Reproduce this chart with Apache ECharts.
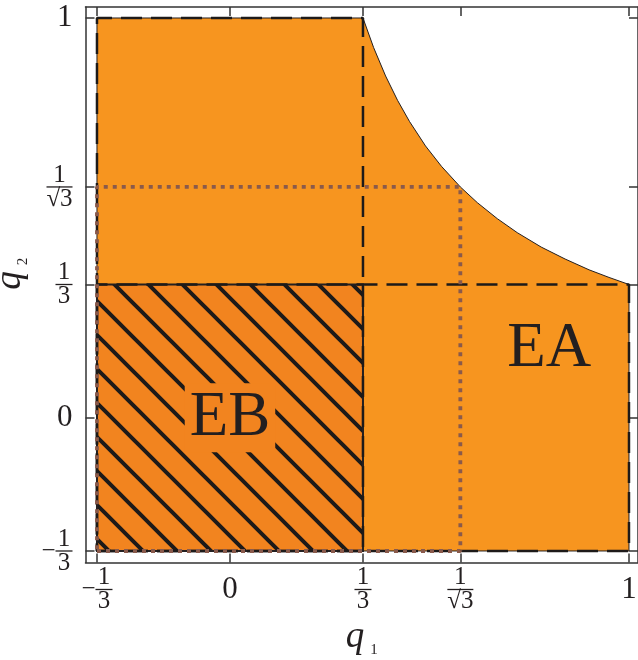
<!DOCTYPE html>
<html><head><meta charset="utf-8">
<script src="https://cdn.jsdelivr.net/npm/echarts@6/dist/echarts.min.js"></script>
<style>html,body{margin:0;padding:0;background:#fff}#c{width:638px;height:660px}</style>
</head><body><div id="c"></div>
<script>
// ---- data ----
const tickValues = [-0.33333, 0, 0.33333, 0.57735, 1];
const tickLabels = ['-1/3', '0', '1/3', '1/√3', '1'];
// upper boundary curve
const curveQ1 = [0.33333, 0.36, 0.39, 0.42, 0.45, 0.49, 0.53, 0.57735, 0.62, 0.67, 0.72, 0.78, 0.84, 0.9, 0.95, 1];
const curveQ2 = [1, 0.926, 0.855, 0.794, 0.741, 0.68, 0.629, 0.57735, 0.538, 0.498, 0.463, 0.427, 0.397, 0.37, 0.351, 0.33333];
// whole allowed region (EA) outline, before the curve
const regionStartQ1 = [1, -0.33333, -0.33333];
const regionStartQ2 = [-0.33333, -0.33333, 1];
// EB square
const ebQ1 = [-0.33333, 0.33333, 0.33333, -0.33333];
const ebQ2 = [-0.33333, -0.33333, 0.33333, 0.33333];
// dashed rectangles
const tallRectQ1 = [-0.33333, 0.33333, 0.33333, -0.33333, -0.33333];
const tallRectQ2 = [-0.33333, -0.33333, 1, 1, -0.33333];
const wideRectQ1 = [-0.33333, 1, 1, -0.33333, -0.33333];
const wideRectQ2 = [-0.33333, -0.33333, 0.33333, 0.33333, -0.33333];
// dotted square
const dotRectQ1 = [-0.33333, 0.57735, 0.57735, -0.33333, -0.33333];
const dotRectQ2 = [-0.33333, -0.33333, 0.57735, 0.57735, -0.33333];
// region labels
const regionNames = ['EA', 'EB'];
const regionLabelQ1 = [0.8, 0];
const regionLabelQ2 = [0.17, 0];

// ---- helpers ----
const zip = (a, b) => a.map((v, i) => [v, b[i]]);
const regionPts = zip(regionStartQ1, regionStartQ2).concat(zip(curveQ1, curveQ2));
const ebPts = zip(ebQ1, ebQ2);

function makeHatch() {
  const s = 34;
  const c = document.createElement('canvas');
  c.width = s; c.height = s;
  const ctx = c.getContext('2d');
  ctx.strokeStyle = '#1d1a19';
  ctx.lineWidth = 4;
  ctx.beginPath();
  for (let k = -s; k <= s; k += s) {
    ctx.moveTo(k - 2, -2); ctx.lineTo(k + s + 2, s + 2);
  }
  ctx.stroke();
  return c;
}
const hatch = makeHatch();

const FONT = "'Liberation Serif', 'Times New Roman', serif";
const TXT = '#231f20';
function labelRich(v) {
  let idx = tickValues.findIndex(t => Math.abs(t - v) < 1e-4);
  if (idx < 0) return '';
  const lbl = tickLabels[idx];
  if (lbl.indexOf('/') < 0) return '{big|' + lbl + '}';
  const neg = lbl[0] === '-';
  const body = neg ? lbl.slice(1) : lbl;
  const [n, d] = body.split('/');
  const wide = d.length > 1;
  const fw = wide ? 'W' : 'N';
  const l1 = (neg ? '{pad| }' : '') + '{n' + fw + '|' + n + '}';
  const l2 = (neg ? '{m|−}' : '') + '{bar' + fw + '| }';
  const l3 = (neg ? '{pad| }' : '') + '{n' + fw + '|' + d + '}';
  return l1 + '\n' + l2 + '\n' + l3;
}
const richLabels = {
  big: { fontFamily: FONT, fontSize: 31, color: TXT, lineHeight: 30 },
  nN: { fontFamily: FONT, fontSize: 25, color: TXT, lineHeight: 21, width: 17, align: 'center' },
  nW: { fontFamily: FONT, fontSize: 25, color: TXT, lineHeight: 21, width: 26, align: 'center' },
  barN: { fontSize: 1, width: 17, height: 1.3, lineHeight: 3, backgroundColor: TXT, align: 'center' },
  barW: { fontSize: 1, width: 26, height: 1.3, lineHeight: 3, backgroundColor: TXT, align: 'center' },
  m: { fontFamily: FONT, fontSize: 25, color: TXT, lineHeight: 3, width: 14, align: 'center' },
  pad: { fontSize: 1, width: 14, align: 'center' }
};
const nameRich = {
  q: { fontFamily: FONT, fontStyle: 'italic', fontSize: 37, color: TXT, lineHeight: 40 },
  s: { fontFamily: FONT, fontSize: 15, color: TXT, lineHeight: 14, verticalAlign: 'bottom', padding: [0, 0, 0, 6] }
};
const regionRich = {
  bg: { fontFamily: FONT, fontSize: 63, color: TXT, lineHeight: 50, backgroundColor: '#f2841f', padding: [4, 5, 2, 5], textBorderWidth: 0 },
  plain: { fontFamily: FONT, fontSize: 63, color: TXT, lineHeight: 50, textBorderWidth: 0 }
};

const frame = { show: true, onZero: false, lineStyle: { color: '#333', width: 1.5 } };
const tick = { show: true, inside: true, length: 9, customValues: tickValues, lineStyle: { color: '#333', width: 1.5 } };

function polySeries(name, pts, style, z) {
  return {
    type: 'custom', name, z, silent: true, clip: false,
    data: [[pts[0][0], pts[0][1]]],
    renderItem: (params, api) => ({
      type: 'polygon',
      shape: { points: pts.map(p => api.coord(p)) },
      style: style
    })
  };
}
function lineSeries(name, q1, q2, color, width, dash, z) {
  return {
    type: 'line', name, z, silent: true, symbol: 'none', animation: false,
    data: zip(q1, q2),
    lineStyle: { color, width, type: dash, cap: 'butt' }
  };
}

const chart = echarts.init(document.getElementById('c'), null, { renderer: 'canvas' });
chart.setOption({
  animation: false,
  backgroundColor: '#ffffff',
  grid: { left: 85.5, right: 0, top: 7, bottom: 97.5, containLabel: false, outerBoundsMode: 'none' },
  xAxis: [
    {
      type: 'value', min: -0.3621, max: 1.0226, position: 'bottom',
      axisLine: frame, axisTick: tick, splitLine: { show: false },
      axisLabel: { customValues: tickValues, formatter: labelRich, rich: richLabels, margin: 27, verticalAlign: 'middle', color: TXT, hideOverlap: false },
      name: '{q|q}{s|1}', nameLocation: 'middle', nameGap: 71,
      nameTextStyle: { rich: nameRich, verticalAlign: 'middle' }
    },
    {
      type: 'value', min: -0.3621, max: 1.0226, position: 'top',
      axisLine: frame, axisTick: tick, splitLine: { show: false }, axisLabel: { show: false }
    }
  ],
  yAxis: [
    {
      type: 'value', min: -0.3621, max: 1.0275, position: 'left',
      axisLine: frame, axisTick: tick, splitLine: { show: false },
      axisLabel: { customValues: tickValues, formatter: labelRich, rich: richLabels, margin: 13, color: TXT, hideOverlap: false },
      name: '{q|q}{s|2}', nameLocation: 'middle', nameGap: 59,
      nameTextStyle: { rich: nameRich, verticalAlign: 'middle', padding: [0, 0, 0, 22] }
    },
    {
      type: 'value', min: -0.3621, max: 1.0275, position: 'right',
      axisLine: frame, axisTick: tick, splitLine: { show: false }, axisLabel: { show: false }
    }
  ],
  series: [
    polySeries('EA region', regionPts, { fill: '#f7951f', stroke: '#231f20', lineWidth: 1 }, 1),
    polySeries('EB fill', ebPts, { fill: '#f2841f' }, 2),
    polySeries('EB hatch', ebPts, { fill: { image: hatch, repeat: 'repeat' }, stroke: '#231f20', lineWidth: 2 }, 3),
    lineSeries('tall', tallRectQ1, tallRectQ2, '#1d1a19', 2.5, [21, 9], 4),
    lineSeries('wide', wideRectQ1, wideRectQ2, '#1d1a19', 2.5, [21, 9], 4),
    lineSeries('dotted', dotRectQ1, dotRectQ2, '#8a5a4b', 3.8, [4, 5], 5),
    {
      type: 'scatter', z: 6, silent: true, symbolSize: 2, itemStyle: { color: 'rgba(0,0,0,0)', opacity: 1 },
      labelLayout: { hideOverlap: false },
      data: zip(regionLabelQ1, regionLabelQ2).map((p, i) => [p[0], p[1], regionNames[i]]),
      label: {
        show: true, position: 'inside', color: TXT, textBorderWidth: 0,
        formatter: p => '{' + (p.value[2] === 'EB' ? 'bg' : 'plain') + '|' + p.value[2] + '}',
        rich: regionRich
      }
    }
  ]
});
</script>
</body></html>
